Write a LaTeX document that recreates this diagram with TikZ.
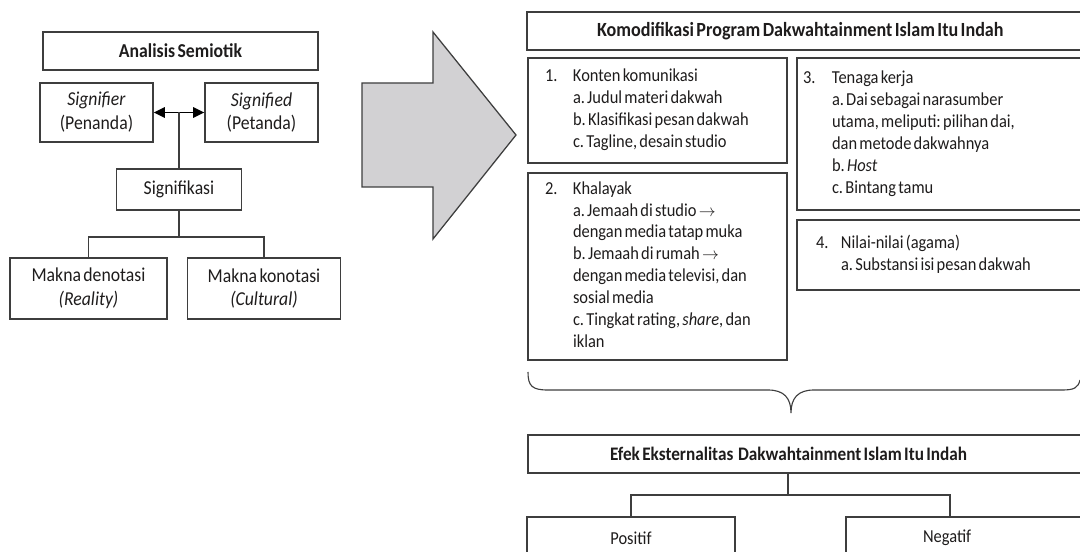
\documentclass[tikz,border=0pt]{standalone}
\usepackage{fontspec}
\setmainfont{Carlito}[FakeStretch=0.9, WordSpace=0.6]
\usepackage{tikz}
\usetikzlibrary{arrows,arrows.meta,calc}
\usepackage{xcolor}
\definecolor{boxline}{RGB}{62,62,62}
\definecolor{arrowgray}{RGB}{210,209,211}
\definecolor{inkblack}{RGB}{30,28,28}
\newcommand{\lfont}{\fontsize{14}{17}\selectfont}
\newcommand{\rfont}{\fontsize{13}{15.6}\selectfont}
\frenchspacing
\tikzstyle{box} = [draw=boxline, line width=0.9pt, rectangle, inner sep=0pt, text=inkblack]
\tikzstyle{lbox} = [box, font=\lfont, align=center]
\tikzstyle{rbox} = [box, font=\rfont, align=left, execute at begin node={\spaceskip=0pt\xspaceskip=0pt\relax}]
\tikzstyle{link} = [draw=boxline, line width=0.8pt]
\tikzstyle{dbl} = [draw=black, line width=1.4pt, {Triangle[length=2.8mm, width=2.6mm]}-{Triangle[length=2.8mm, width=2.6mm]}]
\tikzstyle{bigarrow} = [draw=boxline, line width=0.9pt, fill=arrowgray, line join=miter]
\tikzstyle{curly} = [draw=boxline, line width=0.8pt]

\begin{document}
\begin{tikzpicture}[x=0.25mm, y=-0.25mm]
    \useasboundingbox (0,0) rectangle (1080,552);
    \clip (0,0) rectangle (1080,552);

    % Semiotic analysis (left)
    \node[lbox, font=\lfont\bfseries, minimum width=68.75mm, minimum height=9.5mm] (semiotik) at (180.5,51) {Analisis Semiotik};
    \node[lbox, minimum width=28.25mm, minimum height=14.75mm] (penanda) at (96.5,112.5) {\textit{Signifier}\\(Penanda)};
    \node[lbox, minimum width=28.25mm, minimum height=14.75mm] (petanda) at (261.5,112.5) {\textit{Signified}\\(Petanda)};
    \node[lbox, minimum width=31.25mm, minimum height=10.25mm] (signifikasi) at (179,189.5) {Signifikasi};
    \node[lbox, minimum width=39.25mm, minimum height=15.25mm] (denotasi) at (88.5,288.5) {Makna denotasi\\\textit{(Reality)}};
    \node[lbox, minimum width=38.25mm, minimum height=15.25mm] (konotasi) at (264,288.5) {Makna konotasi\\\textit{(Cultural)}};

    \draw[dbl] (penanda.east) -- (petanda.west);
    \coordinate (relasi) at ($(penanda.east)!0.5!(petanda.west)$);
    \draw[link] (relasi) -- (relasi |- signifikasi.north);
    \coordinate (cabang) at (179,237);
    \draw[link] (signifikasi.south) -- (cabang);
    \draw[link] (denotasi.north) |- (cabang) -| (konotasi.north);

    % Big arrow
    \draw[bigarrow] (362,83) -- (433,83) -- (433,32) -- (516,135) -- (433,239) -- (433,187) -- (362,187) -- cycle;

    % Commodification (right)
    \node[rbox, font=\fontsize{14.3}{15.6}\selectfont\bfseries, text width=105mm, inner xsep=17.5mm, minimum height=9.5mm] (komodifikasi) at (807,31) {Komodifikasi Program Dakwahtainment Islam Itu Indah};
    \node[rbox, text width=56.25mm, inner xsep=4.25mm, minimum height=26.25mm] (konten) at (657.5,110.5) {%
        \begin{tabular}{@{}p{7mm}@{}l@{}}
        1. & Konten komunikasi\\
           & a. Judul materi dakwah\\
           & b. Klasifikasi pesan dakwah\\
           & c. Tagline, desain studio
        \end{tabular}};
    \node[rbox, text width=56.25mm, inner xsep=4.25mm, minimum height=46.75mm] (khalayak) at (657.5,266.5) {%
        \begin{tabular}{@{}p{7mm}@{}l@{}}
        2. & Khalayak\\
           & a. Jemaah di studio $\rightarrow$\\
           & dengan media tatap muka\\
           & b. Jemaah di rumah $\rightarrow$\\
           & dengan media televisi, dan\\
           & sosial media\\
           & c. Tingkat rating, \textit{share}, dan\\
           & iklan
        \end{tabular}};
    \node[rbox, text width=69.75mm, inner xsep=1.5mm, minimum height=38mm] (tenaga) at (942.5,134) {%
        \begin{tabular}{@{}p{7.25mm}@{}l@{}}
        3. & Tenaga kerja\\
           & a. Dai sebagai narasumber\\
           & utama, meliputi: pilihan dai,\\
           & dan metode dakwahnya\\
           & b. \textit{Host}\\
           & c. Bintang tamu
        \end{tabular}};
    \node[rbox, text width=63.25mm, inner xsep=4.75mm, minimum height=17.5mm] (nilai) at (942.5,255) {%
        \begin{tabular}{@{}p{6.25mm}@{}l@{}}
        4. & Nilai-nilai (agama)\\
           & a. Substansi isi pesan dakwah
        \end{tabular}};

    % Brace
    \draw[curly] (528,372) .. controls (528,386) and (532,390) .. (548,390) -- (768,390)
        .. controls (784,390) and (791,398) .. (791,413)
        .. controls (791,398) and (798,390) .. (814,390) -- (1062,390)
        .. controls (1074,390) and (1078,388) .. (1080,380);

    % Externality
    \node[rbox, font=\fontsize{13.6}{15.6}\selectfont\bfseries, text width=99mm, inner xsep=20.5mm, minimum height=9.5mm] (efek) at (808,454) {Efek Eksternalitas~ Dakwahtainment Islam Itu Indah};
    \node[lbox, font=\rfont, minimum width=52mm, minimum height=10.5mm] (positif) at (631,538) {Positif};
    \node[rbox, text width=22mm, inner xsep=19.25mm, minimum height=10.5mm] (negatif) at (967,538) {Negatif};

    \coordinate (cabangefek) at (788,495);
    \coordinate (negatifjoin) at (950,517);
    \draw[link] (cabangefek |- efek.south) -- (cabangefek);
    \draw[link] (positif.north) |- (cabangefek) -| (negatifjoin);
\end{tikzpicture}
\end{document}
